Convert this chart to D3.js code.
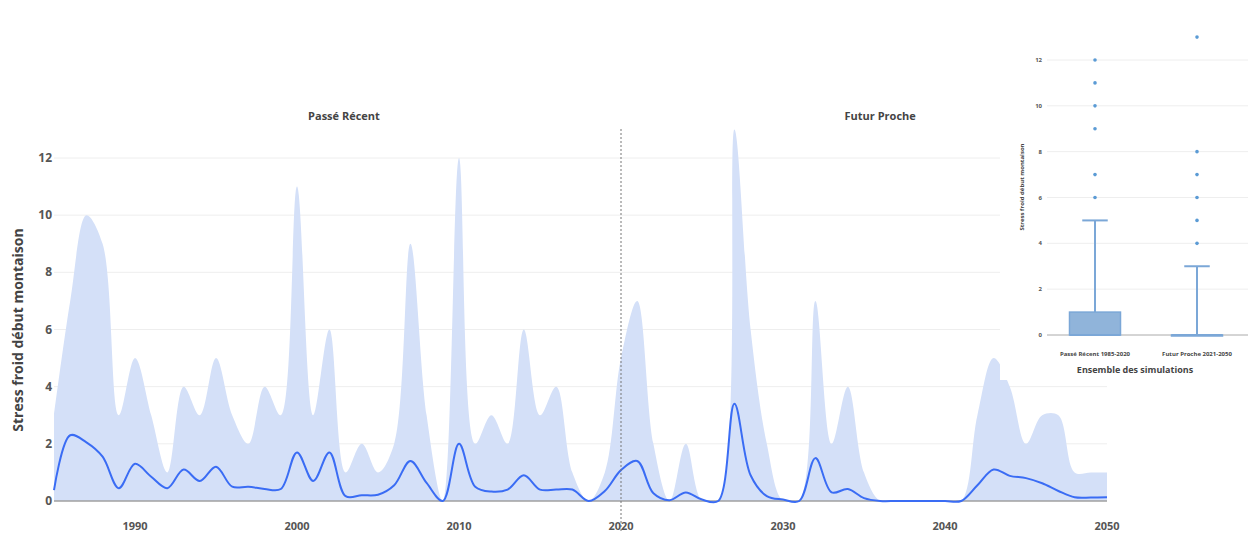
<!DOCTYPE html>
<html>
<head>
<meta charset="utf-8">
<script src="https://cdn.jsdelivr.net/npm/d3@7"></script>
<style>
  body { margin: 0; background: #fff; }
  svg text { font-family: "Open Sans", "DejaVu Sans", sans-serif; }
</style>
</head>
<body>
<svg id="chart" width="1248" height="533"></svg>
<script>
// Annual series
var years = [1985, 1986, 1987, 1988, 1989, 1990, 1991, 1992, 1993, 1994,
             1995, 1996, 1997, 1998, 1999, 2000, 2001, 2002, 2003, 2004,
             2005, 2006, 2007, 2008, 2009, 2010, 2011, 2012, 2013, 2014,
             2015, 2016, 2017, 2018, 2019, 2020, 2021, 2022, 2023, 2024,
             2025, 2026, 2027, 2028, 2029, 2030, 2031, 2032, 2033, 2034,
             2035, 2036, 2037, 2038, 2039, 2040, 2041, 2042, 2043, 2044,
             2045, 2046, 2047, 2048, 2049, 2050];
var maxValues = [3, 7, 10, 9, 3, 5, 3, 1, 4, 3,
                 5, 3, 2, 4, 3, 11, 3, 6, 1, 2,
                 1, 2, 9, 3, 0, 12, 2, 3, 2, 6,
                 3, 4, 1, 0, 1, 5, 7, 2, 0, 2,
                 0, 0, 13, 6, 2, 0, 0, 7, 2, 4,
                 1, 0, 0, 0, 0, 0, 0, 3, 5, 4,
                 2, 3, 3, 1, 1, 1];
var meanValues = [0.38, 2.3, 2.05, 1.55, 0.45, 1.3, 0.85, 0.45, 1.1, 0.7,
                  1.2, 0.5, 0.5, 0.42, 0.42, 1.7, 0.7, 1.7, 0.17, 0.2,
                  0.22, 0.55, 1.4, 0.63, 0, 2.0, 0.5, 0.33, 0.4, 0.9,
                  0.4, 0.4, 0.4, 0, 0.35, 1.08, 1.4, 0.27, 0.03, 0.3,
                  0.05, 0, 3.4, 0.9, 0.17, 0.05, 0, 1.5, 0.3, 0.42,
                  0.1, 0, 0, 0, 0, 0, 0, 0.55, 1.1, 0.88,
                  0.8, 0.62, 0.35, 0.13, 0.12, 0.13];
var xTicks = [1990, 2000, 2010, 2020, 2030, 2040, 2050];
var yTicks = [0, 2, 4, 6, 8, 10, 12];
var splitYear = 2020;
var periodLabels = ["Passé Récent", "Futur Proche"];
var periodLabelYears = [2002.9, 2036];

// Box plot summary (inset)
var boxLabels = ["Passé Récent 1985-2020", "Futur Proche 2021-2050"];
var boxLow = [0, 0];
var boxQ1 = [0, 0];
var boxMedian = [0, 0];
var boxQ3 = [1, 0];
var boxHigh = [5, 3];
var boxOutliers = [[6, 7, 9, 10, 11, 12], [4, 5, 6, 7, 8, 13]];

var svg = d3.select("#chart");
var rows = years.map(function (yr, i) {
    return { year: yr, max: maxValues[i], mean: meanValues[i] };
});

var x = d3.scaleLinear().domain([1985, 2050]).range([54, 1107]);
var y = d3.scaleLinear().domain([0, 12]).range([501, 158]);

// gridlines
svg.append("g")
    .selectAll("line")
    .data(yTicks.filter(function (d) { return d > 0; }))
    .join("line")
    .attr("x1", x.range()[0]).attr("x2", x.range()[1])
    .attr("y1", function (d) { return y(d); })
    .attr("y2", function (d) { return y(d); })
    .attr("stroke", "#eeeeee")
    .attr("stroke-width", 1);

svg.append("clipPath").attr("id", "plotClip")
    .append("rect")
    .attr("x", x.range()[0]).attr("y", 0)
    .attr("width", x.range()[1] - x.range()[0]).attr("height", y(0));

// envelope area
var area = d3.area()
    .x(function (d) { return x(d.year); })
    .y0(y(0))
    .y1(function (d) { return y(d.max); })
    .curve(d3.curveCatmullRom.alpha(0.5));

svg.append("path")
    .datum(rows)
    .attr("clip-path", "url(#plotClip)")
    .attr("d", area)
    .attr("fill", "#d4e0f8");

// zero line
svg.append("line")
    .attr("x1", x.range()[0]).attr("x2", x.range()[1])
    .attr("y1", y(0)).attr("y2", y(0))
    .attr("stroke", "#a0a0a0")
    .attr("stroke-width", 1.5);

// mean line
var line = d3.line()
    .x(function (d) { return x(d.year); })
    .y(function (d) { return y(d.mean); })
    .curve(d3.curveCatmullRom.alpha(0.5));

svg.append("path")
    .datum(rows)
    .attr("d", line)
    .attr("fill", "none")
    .attr("stroke", "#3a6cf4")
    .attr("stroke-width", 2);

// split marker
svg.append("line")
    .attr("x1", x(splitYear)).attr("x2", x(splitYear))
    .attr("y1", 129).attr("y2", 533)
    .attr("stroke", "#777")
    .attr("stroke-width", 1)
    .attr("stroke-dasharray", "2,2");

// period annotations
svg.append("g")
    .selectAll("text")
    .data(periodLabels)
    .join("text")
    .attr("x", function (d, i) { return x(periodLabelYears[i]); })
    .attr("y", 120)
    .attr("text-anchor", "middle")
    .attr("font-size", 11)
    .attr("font-weight", "bold")
    .attr("fill", "#444")
    .text(function (d) { return d; });

// axes labels
svg.append("g")
    .selectAll("text")
    .data(yTicks)
    .join("text")
    .attr("x", 52)
    .attr("y", function (d) { return y(d) + 4; })
    .attr("text-anchor", "end")
    .attr("font-size", 12)
    .attr("font-weight", "bold")
    .attr("fill", "#555")
    .text(function (d) { return d; });

svg.append("g")
    .selectAll("text")
    .data(xTicks)
    .join("text")
    .attr("x", function (d) { return x(d); })
    .attr("y", 530)
    .attr("text-anchor", "middle")
    .attr("font-size", 11)
    .attr("font-weight", "bold")
    .attr("fill", "#555")
    .text(function (d) { return d; });

svg.append("text")
    .attr("transform", "translate(23,330) rotate(-90)")
    .attr("text-anchor", "middle")
    .attr("font-size", 14)
    .attr("font-weight", "bold")
    .attr("fill", "#444")
    .text("Stress froid début montaison");

// ---- inset box plot ----
var inset = svg.append("g");
inset.append("rect")
    .attr("x", 1000).attr("y", 0)
    .attr("width", 248).attr("height", 380)
    .attr("fill", "#fff");

var bx = d3.scaleBand().domain(boxLabels).range([1044, 1248])
    .paddingInner(0.5).paddingOuter(0.25);
var by = d3.scaleLinear().domain([0, 12]).range([335, 60]);

inset.append("g")
    .selectAll("line")
    .data(yTicks.filter(function (d) { return d > 0; }))
    .join("line")
    .attr("x1", 1047).attr("x2", 1248)
    .attr("y1", function (d) { return by(d); })
    .attr("y2", function (d) { return by(d); })
    .attr("stroke", "#eeeeee");

inset.append("line")
    .attr("x1", 1047).attr("x2", 1248)
    .attr("y1", by(0)).attr("y2", by(0))
    .attr("stroke", "#aaa");

inset.append("g")
    .selectAll("text")
    .data(yTicks)
    .join("text")
    .attr("x", 1042)
    .attr("y", function (d) { return by(d) + 2; })
    .attr("text-anchor", "end")
    .attr("font-size", 6)
    .attr("font-weight", "bold")
    .attr("fill", "#555")
    .text(function (d) { return d; });

var boxes = inset.selectAll("g.box")
    .data(boxLabels)
    .join("g")
    .attr("class", "box");

boxes.each(function (label, i) {
    var g = d3.select(this);
    var cx = bx(label) + bx.bandwidth() / 2;
    var bw = bx.bandwidth();
    g.append("line")
        .attr("x1", cx).attr("x2", cx)
        .attr("y1", by(boxQ3[i])).attr("y2", by(boxHigh[i]))
        .attr("stroke", "#7ba7d7").attr("stroke-width", 2);
    g.append("line")
        .attr("x1", cx - bw / 4).attr("x2", cx + bw / 4)
        .attr("y1", by(boxHigh[i])).attr("y2", by(boxHigh[i]))
        .attr("stroke", "#7ba7d7").attr("stroke-width", 2);
    g.append("rect")
        .attr("x", cx - bw / 2)
        .attr("y", by(boxQ3[i]))
        .attr("width", bw)
        .attr("height", Math.max(1, by(boxQ1[i]) - by(boxQ3[i])))
        .attr("fill", "#90b4da")
        .attr("stroke", "#7ba7d7").attr("stroke-width", 1.5);
    g.append("line")
        .attr("x1", cx - bw / 2).attr("x2", cx + bw / 2)
        .attr("y1", by(boxMedian[i])).attr("y2", by(boxMedian[i]))
        .attr("stroke", "#7ba7d7").attr("stroke-width", 2);
    g.selectAll("circle")
        .data(boxOutliers[i])
        .join("circle")
        .attr("cx", cx)
        .attr("cy", function (d) { return by(d); })
        .attr("r", 1.8)
        .attr("fill", "#5b9bd5");
    g.append("text")
        .attr("x", cx).attr("y", 356)
        .attr("text-anchor", "middle")
        .attr("font-size", 6)
        .attr("font-weight", "bold")
        .attr("fill", "#444")
        .text(label);
});

inset.append("text")
    .attr("x", 1135).attr("y", 373)
    .attr("text-anchor", "middle")
    .attr("font-size", 9)
    .attr("font-weight", "bold")
    .attr("fill", "#444")
    .text("Ensemble des simulations");

inset.append("text")
    .attr("transform", "translate(1024,187) rotate(-90)")
    .attr("text-anchor", "middle")
    .attr("font-size", 6)
    .attr("font-weight", "bold")
    .attr("fill", "#444")
    .text("Stress froid début montaison");
</script>
</body>
</html>
